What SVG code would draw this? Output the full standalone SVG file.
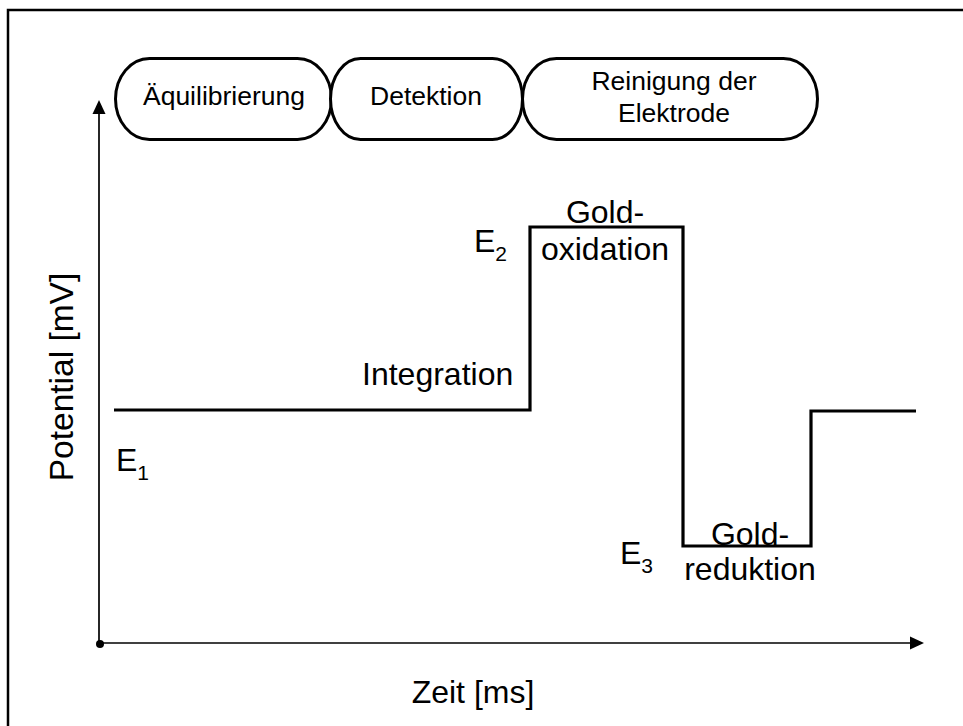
<svg xmlns="http://www.w3.org/2000/svg" width="963" height="726" viewBox="0 0 963 726">
<style>
text{font-family:"Liberation Sans",Arial,sans-serif;fill:#000}
.pill{fill:#fff;stroke:#000;stroke-width:3}
.lbl{font-size:32px}
.ph{font-size:26.5px}
.sub{font-size:21px}
.ax{stroke:#000;stroke-width:1.7;fill:none}
.step{stroke:#000;stroke-width:3.2;fill:none;stroke-linejoin:miter}
</style>
<rect x="0" y="0" width="963" height="726" fill="#fff"/>
<rect id="frame" x="8" y="10" width="1000" height="800" fill="none" stroke="#000" stroke-width="2.5"/>
<g id="connectors">
<line class="ax" x1="99" y1="644" x2="99" y2="110"/>
<polygon points="99,100 92.5,114 105.5,114" fill="#000"/>
<line class="ax" x1="99" y1="643" x2="913" y2="643"/>
<polygon points="924,643 910,636.5 910,649.5" fill="#000"/>
<circle cx="100" cy="644" r="4" fill="#000"/>
<polyline class="step" points="114,410 530,410 530,227 683,227 683,546 811,546 811,411 916,411"/>
</g>
<g id="node-aequilibrierung">
<rect class="pill" x="115.5" y="58.5" width="216" height="81" rx="34" ry="40.5"/>
<text class="ph" x="224" y="105" text-anchor="middle">Äquilibrierung</text>
</g>
<g id="node-detektion">
<rect class="pill" x="330.5" y="58.5" width="192" height="81" rx="30" ry="40.5"/>
<text class="ph" x="426" y="105" text-anchor="middle">Detektion</text>
</g>
<g id="node-reinigung">
<rect class="pill" x="522.5" y="58.5" width="295" height="81" rx="34" ry="40.5"/>
<text class="ph" x="674" y="90" text-anchor="middle">Reinigung der</text>
<text class="ph" x="674" y="122" text-anchor="middle">Elektrode</text>
</g>
<g id="labels">
<text class="lbl" style="font-size:33.5px" transform="translate(73,377) rotate(-90)" text-anchor="middle">Potential [mV]</text>
<text class="lbl" x="473" y="703" text-anchor="middle">Zeit [ms]</text>
<text class="lbl" x="362" y="385">Integration</text>
<text class="lbl" x="116" y="471">E<tspan class="sub" dy="9">1</tspan></text>
<text class="lbl" x="474" y="252">E<tspan class="sub" dy="9">2</tspan></text>
<text class="lbl" x="620" y="564">E<tspan class="sub" dy="9">3</tspan></text>
<text class="lbl" x="605" y="223" text-anchor="middle">Gold-</text>
<text class="lbl" x="605" y="260" text-anchor="middle">oxidation</text>
<text class="lbl" x="750" y="545" text-anchor="middle">Gold-</text>
<text class="lbl" x="750" y="580" text-anchor="middle">reduktion</text>
</g>
</svg>
